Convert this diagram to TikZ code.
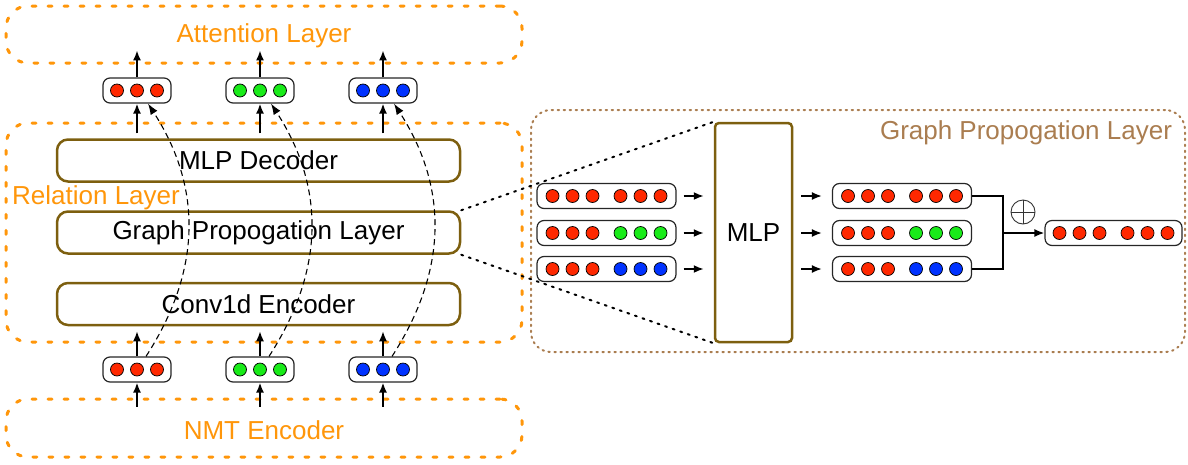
\documentclass[tikz,border=0pt]{standalone}
\usepackage{fontspec}
\setmainfont{Liberation Sans}
\usetikzlibrary{arrows.meta,calc}
\definecolor{orng}{RGB}{255,150,10}
\definecolor{brn}{RGB}{125,95,15}
\definecolor{lbrn}{RGB}{170,125,80}
\definecolor{vred}{RGB}{255,40,0}
\definecolor{vgreen}{RGB}{25,235,25}
\definecolor{vblue}{RGB}{0,50,255}
\begin{document}
\begin{tikzpicture}[x=1pt,y=-1pt,
  font=\fontsize{26}{31}\selectfont,
  layerbox/.style={draw=orng, line width=3pt, dash pattern=on 4pt off 12pt, line cap=round, rounded corners=22pt, text=orng, inner sep=0pt},
  modbox/.style={draw=brn, line width=2.5pt, rounded corners=11pt, minimum width=403pt, minimum height=42pt, inner sep=0pt},
  vecbox/.style={draw=black!85, line width=1.2pt, rounded corners=7pt, fill=white, minimum height=25pt, inner sep=0pt},
  dotc/.style={circle, draw=black, line width=0.7pt, inner sep=0pt, minimum size=13pt},
  arr/.style={line width=1.7pt, -{Latex[length=10pt,width=8pt]}},
  curv/.style={line width=1.1pt, dash pattern=on 6pt off 4pt, -{Latex[length=11pt,width=8pt]}},
  zoomline/.style={line width=2pt, dash pattern=on 2pt off 6pt, line cap=round}
]
\useasboundingbox (0,0) rectangle (1188,464);

% left layers
\node[layerbox, minimum width=516pt, minimum height=57pt] (att) at (264,34.5) {};
\node[text=orng] (attlab) at (264,36) {Attention Layer};
\node[layerbox, minimum width=516pt, minimum height=219pt] (rel) at (264,232.5) {};
\node[layerbox, minimum width=516pt, minimum height=58pt] (nmt) at (264,428) {};
\node[text=orng] (nmtlab) at (264,430) {NMT Encoder};
\node[text=orng, anchor=base west, inner sep=0pt] (rellab) at (12,204) {Relation Layer};

\node[modbox] (dec) at (258.5,160.5) {MLP Decoder};
\node[modbox] (gpl) at (258.5,232.5) {Graph Propogation Layer};
\node[modbox] (conv) at (258.5,304) {Conv1d Encoder};

% small vectors
\foreach \n/\x in {t1/137,t2/260,t3/383} \node[vecbox, minimum width=68pt] (\n) at (\x,90.5) {};
\foreach \n/\x in {b1/137,b2/260,b3/383} \node[vecbox, minimum width=68pt] (\n) at (\x,369.5) {};
\foreach \n/\c in {t1/vred,t2/vgreen,t3/vblue,b1/vred,b2/vgreen,b3/vblue}
  \foreach \dx in {-20,0,20}
    \node[dotc, fill=\c] at ($(\n)+(\dx,0)$) {};

% vertical arrows
\foreach \n in {t1,t2,t3} {
  \draw[arr] (\n.north) -- ++(0,-27);
  \draw[arr] ($(\n.south |- dec.north)+(0,-5)$) -- (\n.south);
}
\foreach \n in {b1,b2,b3} {
  \draw[arr] ($(\n.south |- nmt.north)+(0,9)$) -- (\n.south);
  \draw[arr] (\n.north) -- ($(\n.north |- conv.south)+(0,5)$);
}

% dashed skip curves
\foreach \b/\t in {b1/t1,b2/t2,b3/t3}
  \draw[curv] ($(\b.north)+(9,0)$) .. controls +(55,-85) and +(55,85) .. ($(\t.south)+(11,0)$);

% right panel
\node[draw=lbrn, line width=2pt, dash pattern=on 1.5pt off 4.5pt, line cap=round, rounded corners=20pt, minimum width=654pt, minimum height=242pt, inner sep=0pt] (gpo) at (858,231) {};
\node[text=lbrn, inner sep=0pt] (gpotitle) at (1026,133) {Graph Propogation Layer};

\node[draw=brn, line width=2.5pt, rounded corners=4pt, minimum width=77pt, minimum height=219pt, inner sep=0pt] (mlp) at (753.5,232.5) {MLP};

\draw[zoomline] (gpl.north east) -- (mlp.north west);
\draw[zoomline] (gpl.south east) -- (mlp.south west);

\foreach \n/\y in {in1/196,in2/233,in3/269} \node[vecbox, minimum width=139pt] (\n) at (606.5,\y) {};
\foreach \n/\y in {out1/196,out2/233,out3/269} \node[vecbox, minimum width=139pt] (\n) at (902,\y) {};
\node[vecbox, minimum width=137pt] (fin) at (1113.5,233) {};

\foreach \n/\c in {in1/vred,in2/vgreen,in3/vblue,out1/vred,out2/vgreen,out3/vblue,fin/vred} {
  \foreach \dx in {-54,-34,-14}
    \node[dotc, fill=vred] at ($(\n)+(\dx,0)$) {};
  \foreach \dx in {14,34,54}
    \node[dotc, fill=\c] at ($(\n)+(\dx,0)$) {};
}

\foreach \n in {in1,in2,in3}
  \draw[arr, shorten <=7pt, shorten >=10pt] (\n.east) -- (\n.east -| mlp.west);
\foreach \n in {out1,out2,out3}
  \draw[arr, shorten <=8pt, shorten >=10pt] (\n.west -| mlp.east) -- (\n.west);

\coordinate (j) at ($(out2.east)+(31,0)$);
\draw[line width=2.5pt] (out1.east) -| (j) |- (out3.east);
\draw[arr] (j) -- (fin.west);

\node[circle, draw=black!80, line width=0.9pt, minimum size=24pt, inner sep=0pt] (op) at (1023,212) {};
\draw[black!80, line width=0.9pt] (op.north) -- (op.south);
\draw[black!80, line width=0.9pt] (op.west) -- (op.east);
\end{tikzpicture}
\end{document}
